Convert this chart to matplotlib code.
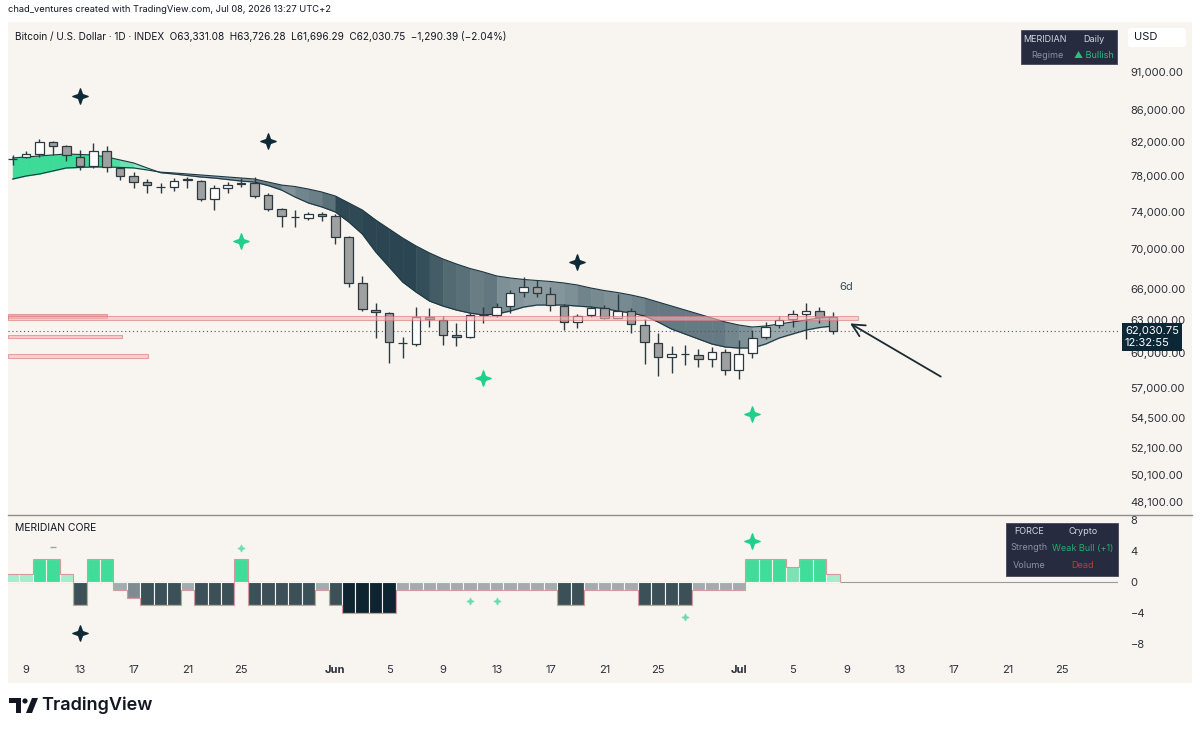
import numpy as np
import pandas as pd
import matplotlib
matplotlib.use("Agg")
import matplotlib.pyplot as plt
import matplotlib.transforms as mtransforms
import matplotlib.colors as mcolors
from matplotlib.path import Path
from matplotlib.patches import Rectangle, Polygon, Circle, FancyBboxPatch
from matplotlib.ticker import NullLocator

plt.rcParams['font.family'] = ['Inter', 'DejaVu Sans']

BG = '#f8f5f0'
INK = '#131722'

# daily BTC candles, May 8 -> Jul 8 2026
dates = pd.date_range('2026-05-08', '2026-07-08', freq='D')
opens = [79940, 80200, 80560, 82070, 81590, 80270, 79180, 80950, 78910, 78010,
         77350, 76800, 76710, 77600, 77460, 75360, 76600, 77060, 77240, 75840,
         74260, 73400, 73300, 73700, 73470, 71240, 66600, 63960, 63700, 60950,
         60820, 63330, 63020, 61640, 61430, 63470, 63490, 64370, 65660, 66150,
         65490, 64340, 62860, 63490, 64120, 63210, 63860, 62560, 60910, 59630,
         59940, 59830, 59450, 60130, 58520, 59980, 61480, 62560, 63110, 63550,
         63890, 63331.08]
highs = [80480, 80990, 82370, 82200, 81670, 81070, 81880, 81550, 79060, 78510,
         77650, 77240, 77770, 77920, 77560, 76980, 77350, 77740, 77850, 76030,
         74400, 74180, 74000, 74000, 73740, 71370, 67270, 64590, 63800, 61480,
         64280, 64120, 63400, 62710, 63710, 64280, 64590, 65880, 67150, 66870,
         66210, 64530, 63580, 64340, 64430, 65540, 64120, 63090, 61790, 60650,
         60730, 60340, 60580, 60370, 61180, 62090, 62860, 63400, 63960, 64590,
         64220, 63726.28]
lows = [79300, 80120, 80270, 80480, 79800, 78710, 78910, 78510, 77540, 76630,
        76060, 76060, 76320, 76600, 75200, 74180, 76030, 76780, 75480, 74100,
        72360, 72360, 73080, 73000, 70520, 66150, 63870, 61340, 59100, 59540,
        60670, 62400, 60730, 60610, 61360, 62710, 63330, 63650, 65230, 65170,
        63890, 62090, 62250, 63270, 63100, 63160, 61790, 59040, 58000, 58240,
        58950, 58820, 58820, 58090, 57720, 59540, 61240, 62250, 62330, 61240,
        62710, 61696.29]
closes = [80000, 80590, 82070, 81590, 80480, 79180, 80950, 79020, 78010, 77310,
          76940, 76760, 77430, 77640, 75360, 76600, 76980, 77240, 75730, 74260,
          73520, 73360, 73710, 73560, 71300, 66600, 64030, 63770, 61000, 60900,
          63270, 63140, 61640, 61430, 63490, 63510, 64280, 65620, 66150, 65560,
          64430, 62860, 63400, 64120, 63250, 63860, 62650, 61000, 59680, 59920,
          59900, 59450, 60130, 58520, 59920, 61340, 62400, 63020, 63550, 63890,
          63330, 62030.75]

# MERIDIAN ribbon: fast and slow averages
fast = [80118, 80237, 80356, 80475, 80594, 80535, 80475, 80237, 79880, 79529,
        78944, 78394, 78242, 78067, 77891, 77774, 77600, 77426, 77312, 76913,
        76400, 75616, 74950, 74510, 73960, 72866, 71586, 69704, 68173, 66672,
        65686, 64815, 64340, 63960, 63678, 63490, 63584, 63866, 64245, 64435,
        64435, 64435, 64340, 64245, 64103, 63866, 63678, 63396, 62834, 62183,
        61726, 61271, 60820, 60550, 60460, 60460, 60820, 61362, 61726, 62090,
        62323, 62462]
slow = [77657, 78008, 78242, 78593, 78944, 79003, 79061, 79061, 79003, 78944,
        78710, 78453, 78359, 78242, 78125, 78008, 77891, 77774, 77657, 77312,
        76970, 76799, 76514, 76176, 75728, 74950, 74180, 73080, 72117, 71162,
        70326, 69601, 68983, 68476, 68022, 67670, 67270, 67070, 66920, 66820,
        66721, 66573, 66375, 66078, 65832, 65638, 65395, 65104, 64720, 64340,
        63960, 63584, 63208, 62834, 62555, 62369, 62462, 62648, 62834, 63020,
        63208, 63302]

# resistance / support zones: (low, high, last day index)
zones_lo = [63250, 63020, 61360, 59590]
zones_hi = [63560, 63400, 61640, 59920]
zones_end = [7.0, 62.9, 8.1, 10.1]

# signal stars on the price pane
dark_star_days = [5, 19, 42]
dark_star_prices = [87820, 82160, 68680]
green_star_days = [17, 35, 55]
green_star_prices = [70850, 57830, 54840]

# MERIDIAN CORE force histogram
force = [1, 1, 3, 3, 1, -3, 3, 3, -1, -2,
         -3, -3, -3, -1, -3, -3, -3, 3, -3, -3,
         -3, -3, -3, -1, -3, -4, -4, -4, -4, -1,
         -1, -1, -1, -1, -1, -1, -1, -1, -1, -1,
         -1, -3, -3, -1, -1, -1, -1, -3, -3, -3,
         -3, -1, -1, -1, -1, 3, 3, 3, 2, 3,
         3, 1]
plus_days = [17, 34, 36, 50]
plus_vals = [4.4, -2.45, -2.45, -4.5]

price_ticks = [91000, 86000, 82000, 78000, 74000, 70000, 66000, 63000,
               60000, 57000, 54500, 52100, 50100, 48100]
force_ticks = [8, 4, 0, -4, -8]

opens = np.array(opens); highs = np.array(highs)
lows = np.array(lows); closes = np.array(closes)
fast = np.array(fast); slow = np.array(slow)
day = np.arange(len(dates))

def blend(c1, c2, t):
    a = np.array(mcolors.to_rgb(c1)); b = np.array(mcolors.to_rgb(c2))
    return tuple(a + (b - a) * t)

# four point sparkle marker
k = 0.26
star = Path([(0, 1), (k, k), (1, 0), (k, -k), (0, -1),
             (-k, -k), (-1, 0), (-k, k), (0, 1)],
            [Path.MOVETO] + [Path.LINETO] * 7 + [Path.CLOSEPOLY])

fig = plt.figure(figsize=(12, 7.3), dpi=100)
fig.add_artist(Rectangle((8 / 1200, 1 - 683 / 730), 1184 / 1200, 661 / 730,
                         transform=fig.transFigure, fc=BG, ec='none', zorder=-10))

ax = fig.add_axes([8 / 1200, 1 - 514 / 730, 1110 / 1200, 492 / 730])
osc = fig.add_axes([8 / 1200, 1 - 655 / 730, 1110 / 1200, 140 / 730], sharex=ax)
for a in (ax, osc):
    a.set_facecolor('none')
    for s in a.spines.values():
        s.set_visible(False)

# ---- ribbon
for i in range(len(day) - 1):
    xs = [i, i + 1]
    f2 = fast[i:i + 2]; s2 = slow[i:i + 2]
    if f2.mean() >= s2.mean():
        t = np.clip((f2 - s2).mean() / 1200, 0, 1)
        c = blend('#b4eed5', '#3edb98', t)
    else:
        t = np.clip(-(slow[i + 1] - slow[i]) / 800, 0, 1)
        c = blend('#98a8ac', '#2b4652', t)
    ax.fill_between(xs, f2, s2, color=c, lw=0.4, zorder=1)
ax.plot(day, fast, color='#1d3641', lw=0.8, zorder=1.5)
ax.plot(day, slow, color='#1d3641', lw=0.8, zorder=1.5)

# ---- candles
bull = closes >= opens
ax.vlines(day, lows, highs, color='#2b3a40', lw=1.0, zorder=2.5)
ax.bar(day, np.abs(closes - opens), bottom=np.minimum(opens, closes), width=0.64,
       color=np.where(bull, '#ffffff', '#a0a0a0'), edgecolor='#2b3a40', lw=0.9, zorder=3)

# ---- zones
zone_face = ['#e58a88', '#f3bdbb', '#f3b8b6', '#f3b8b6']
for lo, hi, end, fc in zip(zones_lo, zones_hi, zones_end, zone_face):
    ax.add_patch(Rectangle((-0.34, lo), end + 0.34, hi - lo, fc=fc, ec='#de7373',
                           lw=0.8, alpha=0.6, zorder=4))

ax.axhline(closes[-1], color='#4c5762', lw=0.8, ls=(0, (1, 2.5)), zorder=1.2)

ax.plot(dark_star_days, dark_star_prices, ls='none', marker=star, ms=11,
        color='#0f2a36', zorder=5)
ax.plot(green_star_days, green_star_prices, ls='none', marker=star, ms=11,
        color='#1ed08a', zorder=5)

ax.annotate('', xy=(62.1, 62830), xytext=(69.2, 57830),
            arrowprops=dict(arrowstyle='->,head_length=0.9,head_width=0.45',
                            color='#1b2b33', lw=1.3), zorder=6)
ax.text(62.0, 66170, '6d', ha='center', va='center', fontsize=8, color='#3a4a52')

ax.set_yscale('log')
ax.set_ylim(47277, 97997)
ax.set_xlim(-0.34, 82.2)
ax.set_yticks(price_ticks)
ax.set_yticklabels([f'{v:,.2f}' for v in price_ticks])
ax.yaxis.set_minor_locator(NullLocator())
ax.yaxis.tick_right()
ax.tick_params(axis='y', length=0, pad=9, labelsize=8, labelcolor='#2a2e39')
ax.tick_params(axis='x', length=0, labelbottom=False)

# last price label on the axis (first line sits on the price)
blended = mtransforms.blended_transform_factory(ax.transAxes, ax.transData)
ax.annotate(f'{closes[-1]:,.2f}\n12:32:55', xy=(1.0, closes[-1]), xycoords=blended,
            xytext=(5, -4.5), textcoords='offset points',
            ha='left', va='center', fontsize=8, color='white', linespacing=1.15,
            bbox=dict(boxstyle='square,pad=0.3', fc='#0c2735', ec='none'),
            annotation_clip=False, zorder=10)

# ---- MERIDIAN CORE
force_colors = {3: '#3fdc9a', 2: '#7be2b5', 1: '#a9ebcd', -1: '#a2abae',
                -2: '#7e8c92', -3: '#3c5058', -4: '#0f2431'}
osc.axhline(0, color='#9a9a9a', lw=0.8, zorder=0.5)
osc.bar(day, force, width=1.0, color=[force_colors[v] for v in force],
        edgecolor=BG, lw=0.8, zorder=2)
osc.stairs(force, np.arange(len(day) + 1) - 0.5, baseline=0, color='#d49a9a',
           lw=0.8, zorder=2.5)
osc.plot([5], [-6.6], ls='none', marker=star, ms=11, color='#0f2a36', zorder=5)
osc.plot([55], [5.3], ls='none', marker=star, ms=11, color='#1ed08a', zorder=5)
osc.plot(plus_days, plus_vals, ls='none', marker=star, ms=4.5, color='#6fdcae', zorder=5)
osc.plot([3], [4.5], ls='none', marker='_', ms=4, mew=1, color='#9aa4a8', zorder=5)
osc.text(0.006, 0.91, 'MERIDIAN CORE', transform=osc.transAxes, fontsize=7.5,
         color=INK, va='center')

osc.set_ylim(-9.42, 8.65)
osc.set_yticks(force_ticks)
osc.set_yticklabels([str(v).replace('-', '\u2212') for v in force_ticks])
osc.yaxis.tick_right()
osc.tick_params(axis='y', length=0, pad=9, labelsize=8, labelcolor='#2a2e39')

axis_days = pd.date_range('2026-05-08', '2026-07-31', freq='D')
tick_pos, tick_lab = [], []
for k, d in enumerate(axis_days):
    if d.day == 1:
        tick_pos.append(k); tick_lab.append(d.strftime('%b'))
    elif d.day in (5, 9, 13, 17, 21, 25):
        tick_pos.append(k); tick_lab.append(str(d.day))
osc.set_xticks(tick_pos)
osc.set_xticklabels(tick_lab)
osc.tick_params(axis='x', length=0, pad=7, labelsize=8, labelcolor='#2a2e39')
for lab in osc.get_xticklabels():
    if lab.get_text() in ('Jun', 'Jul'):
        lab.set_fontweight('bold')

# ---- overlay in pixel units for header, boxes and logo
ov = fig.add_axes([0, 0, 1, 1], zorder=5)
ov.set_xlim(0, 1200); ov.set_ylim(730, 0); ov.axis('off')

ov.plot([8, 1192], [514.5, 514.5], color='#8e8e8e', lw=1)
ov.text(8, 10, 'chad_ventures created with TradingView.com, Jul 08, 2026 13:27 UTC+2',
        fontsize=6.7, color=INK, va='center')
ov.text(15, 36, 'Bitcoin / U.S. Dollar \u00b7 1D \u00b7 INDEX  O63,331.08  H63,726.28  '
        'L61,696.29  C62,030.75  \u22121,290.39 (\u22122.04%)',
        fontsize=7.2, color=INK, va='center')

ov.add_patch(FancyBboxPatch((1128, 28), 58, 19, boxstyle='round,pad=0,rounding_size=3',
                            fc='white', ec='none'))
ov.text(1134, 37.5, 'USD', fontsize=8, color=INK, va='center')

# regime table
ov.add_patch(Rectangle((1021, 30), 96, 34, fc='#272b40', ec='#44485c', lw=0.6))
ov.text(1045, 39, 'MERIDIAN', fontsize=6.5, color='#d5d8e0', ha='center', va='center')
ov.text(1094, 39, 'Daily', fontsize=6.5, color='#d5d8e0', ha='center', va='center')
ov.text(1047, 56, 'Regime', fontsize=6.5, color='#8c90a0', ha='center', va='center')
ov.text(1094, 56, '\u25b2 Bullish', fontsize=6.5, color='#27c27f', ha='center', va='center')

# force table
ov.add_patch(Rectangle((1006, 523), 112, 53, fc='#272b40', ec='#44485c', lw=0.6))
ov.text(1029, 531, 'FORCE', fontsize=6.5, color='#d5d8e0', ha='center', va='center')
ov.text(1083, 531, 'Crypto', fontsize=6.5, color='#d5d8e0', ha='center', va='center')
ov.text(1029, 548, 'Strength', fontsize=6.5, color='#8c90a0', ha='center', va='center')
ov.text(1083, 548, 'Weak Bull (+1)', fontsize=6.5, color='#1fae6f', ha='center', va='center')
ov.text(1029, 565, 'Volume', fontsize=6.5, color='#8c90a0', ha='center', va='center')
ov.text(1083, 565, 'Dead', fontsize=6.5, color='#c23b40', ha='center', va='center')

# TradingView logo
ov.add_patch(Polygon([(9, 698), (21, 698), (21, 713), (15.5, 713), (15.5, 703), (9, 703)],
                     closed=True, fc=INK, ec='none'))
ov.add_patch(Circle((25, 701), 2.6, fc=INK, ec='none'))
ov.add_patch(Polygon([(26, 713), (32, 698), (38, 698), (32, 713)], closed=True,
                     fc=INK, ec='none'))
ov.text(41, 705.5, 'TradingView', fontsize=13, fontweight='semibold', color=INK,
        va='center')

fig.savefig('out.png', dpi=100, facecolor='white')
